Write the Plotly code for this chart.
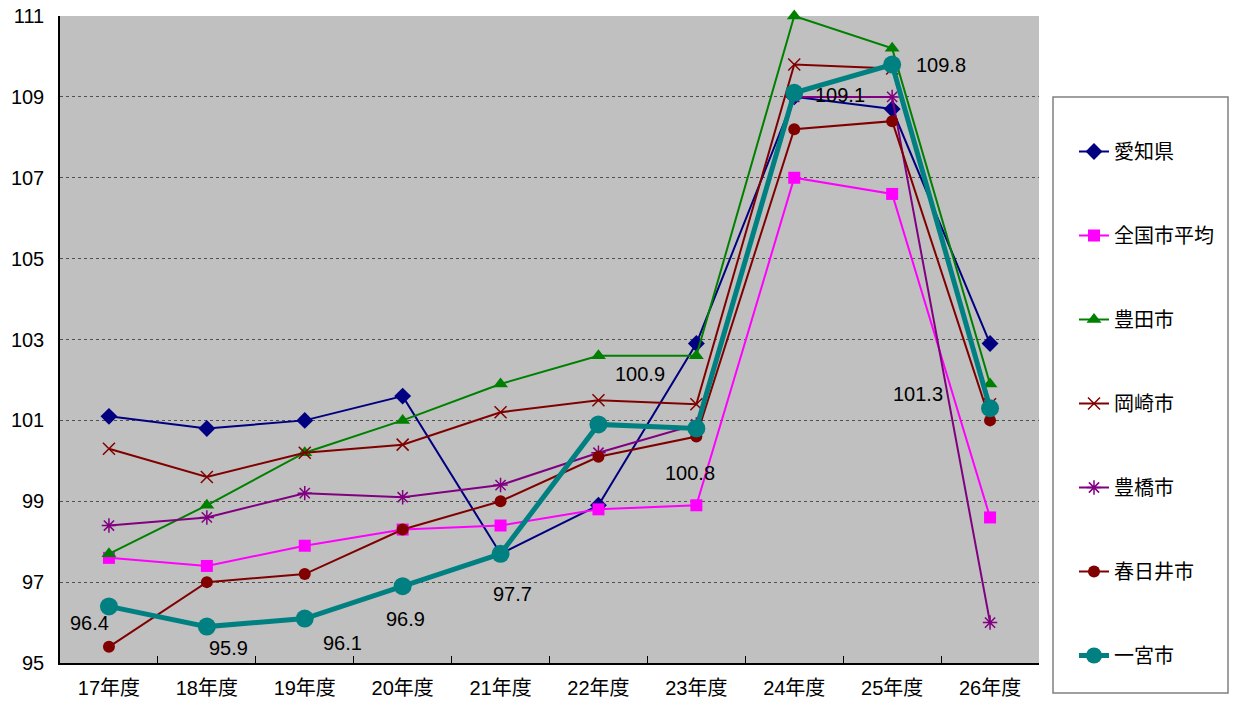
import plotly.graph_objects as go

years = ["17年度", "18年度", "19年度", "20年度", "21年度", "22年度", "23年度", "24年度", "25年度", "26年度"]

aichi = [101.1, 100.8, 101.0, 101.6, 97.7, 98.9, 102.9, 109.0, 108.7, 102.9]
zenkoku = [97.6, 97.4, 97.9, 98.3, 98.4, 98.8, 98.9, 107.0, 106.6, 98.6]
toyota = [97.7, 98.9, 100.2, 101.0, 101.9, 102.6, 102.6, 111.0, 110.2, 101.9]
okazaki = [100.3, 99.6, 100.2, 100.4, 101.2, 101.5, 101.4, 109.8, 109.7, 101.4]
toyohashi = [98.4, 98.6, 99.2, 99.1, 99.4, 100.2, 100.9, 109.0, 109.0, 96.0]
kasugai = [95.4, 97.0, 97.2, 98.3, 99.0, 100.1, 100.6, 108.2, 108.4, 101.0]
ichinomiya = [96.4, 95.9, 96.1, 96.9, 97.7, 100.9, 100.8, 109.1, 109.8, 101.3]

y_ticks = [95, 97, 99, 101, 103, 105, 107, 109, 111]

# label offsets in pixels (x, y-up) for 一宮市 values
label_dx = [-19, 22, 38, 3, 12, 42, -6, 46, 49, -72]
label_dy = [-17, -21, -24, -33, -40, 50, -45, -2, 0, 14]

FONT = "Liberation Sans, Arial, Noto Sans CJK JP, sans-serif"

series = [
    ("愛知県", aichi, "#000080", 2, dict(symbol="diamond", size=13)),
    ("全国市平均", zenkoku, "#FF00FF", 2, dict(symbol="square", size=12)),
    ("豊田市", toyota, "#008000", 2, dict(symbol="triangle-up", size=13)),
    ("岡崎市", okazaki, "#800000", 2, dict(symbol="x-thin", size=12, line=dict(width=1.5, color="#800000"))),
    ("豊橋市", toyohashi, "#800080", 2, dict(symbol="asterisk", size=12, line=dict(width=1.5, color="#800080"))),
    ("春日井市", kasugai, "#800000", 2, dict(symbol="circle", size=12)),
    ("一宮市", ichinomiya, "#008080", 5, dict(symbol="circle", size=18)),
]

fig = go.Figure()
for i, (name, vals, color, lw, mk) in enumerate(series):
    mk = dict(mk)
    mk.setdefault("color", color)
    fig.add_trace(go.Scatter(
        x=years, y=vals, name=name, mode="lines+markers",
        line=dict(color=color, width=lw), marker=mk,
        legendgroup="g%d" % i, cliponaxis=False,
    ))

for i, (yr, v) in enumerate(zip(years, ichinomiya)):
    fig.add_annotation(x=yr, y=v, text=f"{v:.1f}", showarrow=False,
                       xshift=label_dx[i], yshift=label_dy[i],
                       font=dict(family=FONT, size=20, color="black"))

fig.add_shape(type="rect", xref="paper", yref="paper",
              x0=(1053 - 60) / 979, x1=(1228 - 60) / 979,
              y0=(663 - 693) / 647, y1=(663 - 97) / 647,
              line=dict(color="#808080", width=1.5), fillcolor="white", layer="below")

fig.update_layout(
    width=1236, height=704,
    margin=dict(l=60, r=197, t=16, b=41, autoexpand=False),
    paper_bgcolor="white", plot_bgcolor="#C0C0C0",
    font=dict(family=FONT, size=20, color="black"),
    showlegend=True,
    legend=dict(x=(1074 - 60) / 979, xanchor="left", y=(663 - 132) / 647, yanchor="top",
                bgcolor="rgba(0,0,0,0)", borderwidth=0, traceorder="grouped",
                tracegroupgap=55, font=dict(family=FONT, size=20)),
    xaxis=dict(type="category", showline=True, linecolor="black", linewidth=1.5,
               ticks="inside", tickson="boundaries", ticklen=7, tickcolor="black",
               showgrid=False, mirror=False, range=[-0.5, 9.5], ticklabelstandoff=6),
    yaxis=dict(range=[95, 111], tickvals=y_ticks, showline=True, linecolor="black",
               linewidth=1.5, ticks="", showgrid=True, gridcolor="#505050",
               griddash="dot", gridwidth=1, zeroline=False, ticklabelstandoff=10),
)

fig.write_html("out.html", config={"displayModeBar": False},
               post_script="document.body.style.margin='0';")
